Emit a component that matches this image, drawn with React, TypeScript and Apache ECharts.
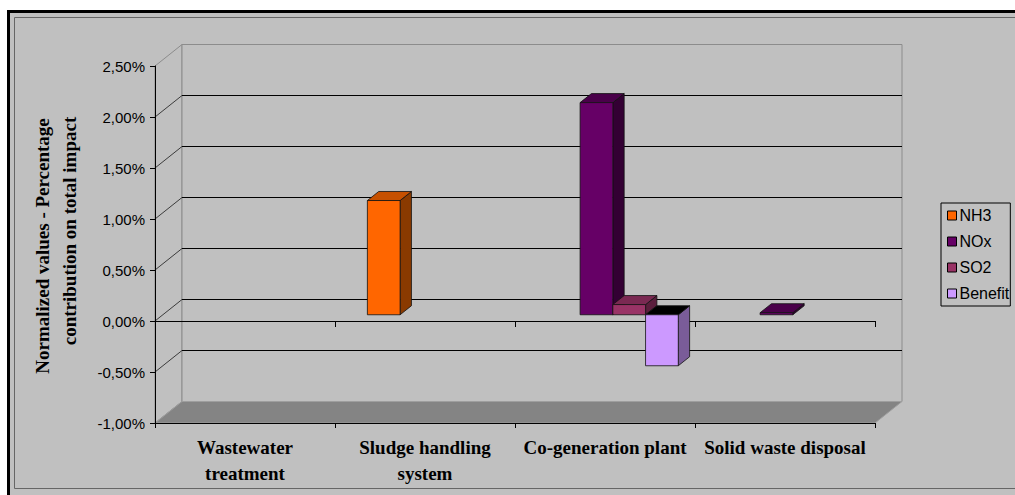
import { useEffect, useRef } from 'react';
import * as echarts from 'echarts';

// Categories, series and axis ticks (values in percent of total impact)
const CATEGORIES = ['Wastewater\ntreatment', 'Sludge handling\nsystem', 'Co-generation plant', 'Solid waste disposal'];
const SERIES_NAMES = ['NH3', 'NOx', 'SO2', 'Benefit'];
const NH3 = [null, 1.12, null, null];
const NOX = [null, null, 2.08, 0.02];
const SO2 = [null, null, 0.1, null];
const BENEFIT = [null, null, -0.5, null];
const Y_TICKS = [-1, -0.5, 0, 0.5, 1, 1.5, 2, 2.5];

const Y_MIN = Y_TICKS[0];
const Y_MAX = Y_TICKS[Y_TICKS.length - 1];
const Y_STEP = Y_TICKS[1] - Y_TICKS[0];

// Oblique projection of the chart depth
const DEPTH_X = 27;
const DEPTH_Y = -21.5;
const BAR_FRONT = 0.29; // fraction of depth where the column front faces sit
const BAR_DEPTH = 0.42; // fraction of depth taken by a column
const GAP_RATIO = 1.5; // gap between clusters, in column widths

const COLORS = [
  { front: '#ff6600', top: '#c65000', side: '#8a3a00' },
  { front: '#660066', top: '#4a004a', side: '#330033' },
  { front: '#993366', top: '#7a2952', side: '#5a1e3c' },
  { front: '#cc99ff', top: '#000000', side: '#7a5c99' },
];

const SERIF = '"Liberation Serif", "Times New Roman", serif';
const SANS = '"Liberation Sans", Arial, sans-serif';
const BG = '#c0c0c0';

function toData(values: (number | null)[]) {
  return values
    .map((v, i) => (v === null ? null : [i, v]))
    .filter((d) => d !== null) as number[][];
}

function makeBarRenderer(seriesIdx: number) {
  const c = COLORS[seriesIdx];
  return (params: any, api: any) => {
    const cat = api.value(0);
    const val = api.value(1);
    const band = api.size([1, 0])[0];
    const n = SERIES_NAMES.length;
    const w = band / (n + GAP_RATIO);
    const fx = DEPTH_X * BAR_FRONT;
    const fy = DEPTH_Y * BAR_FRONT;
    const bx = DEPTH_X * BAR_DEPTH;
    const by = DEPTH_Y * BAR_DEPTH;
    const base = api.coord([cat, 0]);
    const tip = api.coord([cat, val]);
    const x = base[0] - band / 2 + (GAP_RATIO / 2) * w + seriesIdx * w + fx;
    const y0 = base[1] + fy;
    const y1 = tip[1] + fy;
    const top = Math.min(y0, y1);
    const bot = Math.max(y0, y1);
    const stroke = { stroke: '#111', lineWidth: 0.8 };
    return {
      type: 'group',
      children: [
        {
          type: 'polygon',
          shape: { points: [[x + w, top], [x + w + bx, top + by], [x + w + bx, bot + by], [x + w, bot]] },
          style: { fill: c.side, ...stroke },
        },
        {
          type: 'polygon',
          shape: { points: [[x, top], [x + bx, top + by], [x + w + bx, top + by], [x + w, top]] },
          style: { fill: c.top, ...stroke },
        },
        {
          type: 'rect',
          shape: { x, y: top, width: w, height: Math.max(bot - top, 0.5) },
          style: { fill: c.front, ...stroke },
        },
      ],
    };
  };
}

const renderWalls = (params: any, api: any) => {
  const cs = params.coordSys;
  const x0 = cs.x;
  const x1 = cs.x + cs.width;
  const yTop = api.coord([0, Y_MAX])[1];
  const yBot = api.coord([0, Y_MIN])[1];
  return {
    type: 'group',
    children: [
      {
        type: 'polygon',
        shape: { points: [[x0, yTop], [x0 + DEPTH_X, yTop + DEPTH_Y], [x0 + DEPTH_X, yBot + DEPTH_Y], [x0, yBot]] },
        style: { fill: BG, stroke: '#8c8c8c', lineWidth: 1 },
      },
      {
        type: 'rect',
        shape: { x: x0 + DEPTH_X, y: yTop + DEPTH_Y, width: x1 - x0, height: yBot - yTop },
        style: { fill: BG, stroke: '#8c8c8c', lineWidth: 1 },
      },
      {
        type: 'polygon',
        shape: { points: [[x0, yBot], [x1, yBot], [x1 + DEPTH_X, yBot + DEPTH_Y], [x0 + DEPTH_X, yBot + DEPTH_Y]] },
        style: { fill: '#848484', stroke: '#9e9e9e', lineWidth: 1 },
      },
    ],
  };
};

const renderGridLine = (params: any, api: any) => {
  const v = api.value(1);
  if (v <= Y_MIN || v >= Y_MAX) return null;
  const cs = params.coordSys;
  const x0 = cs.x;
  const x1 = cs.x + cs.width;
  const y = api.coord([0, v])[1];
  return {
    type: 'group',
    children: [
      {
        type: 'line',
        shape: { x1: x0, y1: y, x2: x0 + DEPTH_X, y2: y + DEPTH_Y },
        style: { stroke: '#3c3c3c', lineWidth: 1 },
      },
      {
        type: 'line',
        shape: { x1: x0 + DEPTH_X, y1: y + DEPTH_Y, x2: x1 + DEPTH_X, y2: y + DEPTH_Y },
        style: { stroke: '#000', lineWidth: 1 },
      },
    ],
  };
};

export default function App() {
  const ref = useRef<HTMLDivElement>(null);

  useEffect(() => {
    const chart = echarts.init(ref.current!, null, { renderer: 'svg' });
    const seriesValues = [NH3, NOX, SO2, BENEFIT];

    chart.setOption({
      animation: false,
      backgroundColor: '#ffffff',
      graphic: [
        { type: 'rect', z: 0, shape: { x: 7, y: 10, width: 1020, height: 500 }, style: { fill: '#000' } },
        { type: 'rect', z: 0, shape: { x: 10, y: 13, width: 1020, height: 500 }, style: { fill: BG } },
        {
          type: 'rect',
          z: 0,
          shape: { x: 14.5, y: 17.5, width: 1020, height: 471 },
          style: { fill: 'none', stroke: '#666', lineWidth: 1 },
        },
        {
          type: 'text',
          z: 10,
          x: 42,
          y: 246,
          rotation: Math.PI / 2,
          style: {
            text: 'Normalized values - Percentage',
            fontFamily: SERIF,
            fontWeight: 'bold',
            fontSize: 19,
            fill: '#000',
            align: 'center',
            verticalAlign: 'middle',
            textAlign: 'center',
            textVerticalAlign: 'middle',
          },
        },
        {
          type: 'text',
          z: 10,
          x: 69,
          y: 231,
          rotation: Math.PI / 2,
          style: {
            text: 'contribution on total impact',
            fontFamily: SERIF,
            fontWeight: 'bold',
            fontSize: 19,
            fill: '#000',
            align: 'center',
            verticalAlign: 'middle',
            textAlign: 'center',
            textVerticalAlign: 'middle',
          },
        },
      ],
      grid: { left: 155, right: 140, top: 66, bottom: 72, containLabel: false },
      legend: {
        orient: 'vertical',
        left: 941,
        top: 203,
        data: SERIES_NAMES,
        icon: 'rect',
        itemWidth: 9,
        itemHeight: 9,
        itemGap: 9,
        padding: [4, 1, 4, 6],
        borderColor: '#000',
        borderWidth: 1,
        backgroundColor: BG,
        selectedMode: false,
        itemStyle: { borderColor: '#000', borderWidth: 1 },
        textStyle: { fontFamily: SANS, fontSize: 16, color: '#000', lineHeight: 17, padding: [0, 0, 0, -2] },
        z: 10,
      },
      xAxis: [
        {
          type: 'category',
          data: CATEGORIES,
          position: 'bottom',
          z: 3,
          axisLine: { show: true, onZero: true, lineStyle: { color: '#000', width: 1 } },
          axisTick: { show: true, length: 6, lineStyle: { color: '#000' } },
          axisLabel: { show: false },
          splitLine: { show: false },
        },
        {
          type: 'category',
          data: CATEGORIES,
          position: 'bottom',
          z: 3,
          axisLine: { show: true, onZero: false, lineStyle: { color: '#000', width: 1 } },
          axisTick: { show: true, length: 5, lineStyle: { color: '#000' } },
          axisLabel: {
            show: true,
            interval: 0,
            margin: 11,
            color: '#000',
            fontFamily: SERIF,
            fontWeight: 'bold',
            fontSize: 19,
            lineHeight: 26,
          },
          splitLine: { show: false },
        },
      ],
      yAxis: {
        type: 'value',
        min: Y_MIN,
        max: Y_MAX,
        interval: Y_STEP,
        z: 3,
        axisLine: { show: true, lineStyle: { color: '#000', width: 1 } },
        axisTick: { show: true, length: 5, lineStyle: { color: '#000' } },
        axisLabel: {
          margin: 10,
          color: '#000',
          fontFamily: SANS,
          fontSize: 15,
          formatter: (v: number) => v.toFixed(2).replace('.', ',') + '%',
        },
        splitLine: { show: false },
      },
      series: [
        {
          type: 'custom',
          name: 'walls',
          silent: true,
          z: 1,
          xAxisIndex: 0,
          renderItem: renderWalls,
          data: [[0, 0]],
        },
        {
          type: 'custom',
          name: 'gridlines',
          silent: true,
          z: 2,
          xAxisIndex: 0,
          renderItem: renderGridLine,
          data: Y_TICKS.map((v) => [0, v]),
        },
        ...SERIES_NAMES.map((name, i) => ({
          type: 'custom',
          name,
          z: 4,
          xAxisIndex: 0,
          itemStyle: { color: COLORS[i].front },
          renderItem: makeBarRenderer(i),
          data: toData(seriesValues[i]),
        })),
      ],
    });

    return () => chart.dispose();
  }, []);

  return <div ref={ref} style={{ position: 'fixed', left: 0, top: 0, width: 1015, height: 495 }} />;
}
